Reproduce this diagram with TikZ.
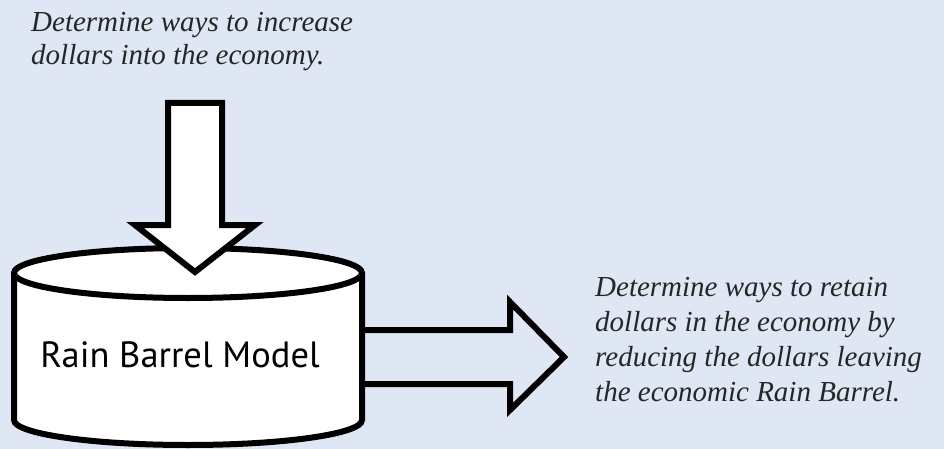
\documentclass[tikz,border=0pt]{standalone}
\usepackage{fontspec}
\setmainfont{Liberation Serif}
\newfontfamily\barrelfont{PT Sans}
\definecolor{skyfill}{RGB}{222,231,243}
\tikzset{
  outline/.style={draw=black, line width=6pt, line join=miter},
  note/.style={font=\fontsize{29}{35}\selectfont\itshape, text=black!85, align=left, inner sep=0pt}
}

\begin{document}
\begin{tikzpicture}[x=1pt,y=-1pt]
                \fill[skyfill] (0,0) rectangle (944,449);
                \useasboundingbox (0,0) rectangle (944,449);
                % barrel: body, then the lid
                \coordinate (lid) at (188,273);
                \coordinate (floor) at (188,420);
                \filldraw[outline, fill=white] (14,273) -- (14,420) arc[start angle=180, end angle=360, x radius=174, y radius=-25] -- (362,273);
                \filldraw[outline, fill=white] (lid) ellipse [x radius=174, y radius=25];
                \node[font=\barrelfont\fontsize{36.5}{40}\selectfont, anchor=base] (barrel) at (180,367) {Rain Barrel Model};
                % dollars coming in
                \filldraw[outline, fill=white] (168,103) -- (222,103) -- (222,225) -- (255,225) -- (195,272) -- (135,225) -- (168,225) -- cycle;
                % dollars going out
                \draw[outline] (362,330) -- (510,330) -- (510,302) -- (564,357) -- (510,410) -- (510,384) -- (362,384);
                % base anchor sits on the last line
                \node[note, font=\fontsize{29}{33}\selectfont\itshape, anchor=base west] (inflow) at (31,65) {Determine ways to increase\\dollars into the economy.};
                \node[note, anchor=base west] (outflow) at (595,401) {Determine ways to retain\\dollars in the economy by\\reducing the dollars leaving\\the economic Rain Barrel.};
            \end{tikzpicture}
\end{document}
